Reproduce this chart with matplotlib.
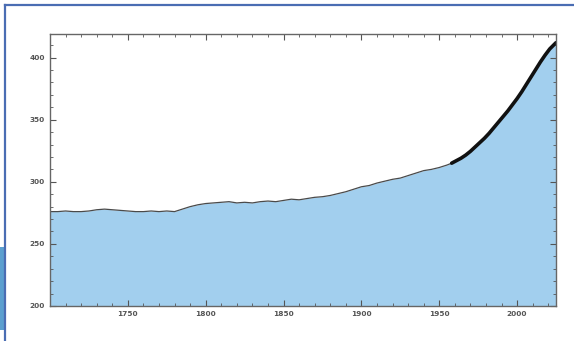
import matplotlib.pyplot as plt
from matplotlib.patches import Rectangle
from matplotlib.lines import Line2D
from matplotlib.ticker import MultipleLocator

# ice core record (ppm), 5-year steps
ice_years = list(range(1700, 1960, 5))
ice_ppm = [276, 276, 276.5, 276, 276, 276.5, 277.5, 278, 277.5, 277,
           276.5, 276, 276, 276.5, 276, 276.5, 276, 278, 280, 281.5,
           282.5, 283, 283.5, 284, 283, 283.5, 283, 284, 284.5, 284,
           285, 286, 285.5, 286.5, 287.5, 288, 289, 290.5, 292, 294,
           296, 297, 299, 300.5, 302, 303, 305, 307, 309, 310,
           311.5, 313.5]

# direct measurements
ml_years = [1958, 1961, 1964, 1967, 1970, 1973, 1976, 1979, 1982, 1985,
            1988, 1991, 1994, 1997, 2000, 2003, 2006, 2009, 2012, 2015,
            2018, 2021, 2025]
ml_ppm = [315, 317, 319, 321.5, 324.5, 328, 331.5, 335, 339, 343.5,
          348, 352.5, 357, 362, 367, 372.5, 378.5, 384.5, 390.5, 396.5,
          402, 407, 412]

x_ticks = [1750, 1800, 1850, 1900, 1950, 2000]
y_ticks = [200, 250, 300, 350, 400]

fill_col = '#a2cfee'
frame_col = '#4a6db3'
txt_col = '#555555'

fig = plt.figure(figsize=(5.74, 3.41), dpi=100)
ax = fig.add_axes([50 / 574, 1 - 306 / 341, 506 / 574, 272 / 341])

all_years = ice_years + ml_years
all_ppm = ice_ppm + ml_ppm
ax.fill_between(all_years, 200, all_ppm, color=fill_col, lw=0)
ax.plot(ice_years + [ml_years[0]], ice_ppm + [ml_ppm[0]], color='#4a4a4a', lw=0.9)
ax.plot(ml_years, ml_ppm, color='#111111', lw=2.6, solid_capstyle='round')

ax.set_xlim(1700, 2025)
ax.set_ylim(200, 419)
ax.set_xticks(x_ticks)
ax.set_yticks(y_ticks)
ax.xaxis.set_minor_locator(MultipleLocator(10))
ax.yaxis.set_minor_locator(MultipleLocator(10))
ax.tick_params(which='both', direction='in', top=True, right=True,
               colors='#555555', labelcolor=txt_col, labelsize=5.3)
ax.tick_params(which='major', length=4, width=0.8)
ax.tick_params(which='minor', length=2, width=0.6)
for lab in ax.get_xticklabels() + ax.get_yticklabels():
    lab.set_fontweight('bold')
for s in ax.spines.values():
    s.set_color('#666666')
    s.set_linewidth(1.0)

# page frame and blue tab on the left
fig.add_artist(Line2D([5 / 574, 5 / 574], [0, 1 - 5 / 341], transform=fig.transFigure,
                      color=frame_col, lw=1.6))
fig.add_artist(Line2D([5 / 574, 1], [1 - 5 / 341, 1 - 5 / 341], transform=fig.transFigure,
                      color=frame_col, lw=1.6))
fig.add_artist(Rectangle((0, 1 - 330 / 341), 5 / 574, 83 / 341, transform=fig.transFigure,
                         color='#5b9fcf', lw=0))

fig.savefig('out.png', dpi=100)
